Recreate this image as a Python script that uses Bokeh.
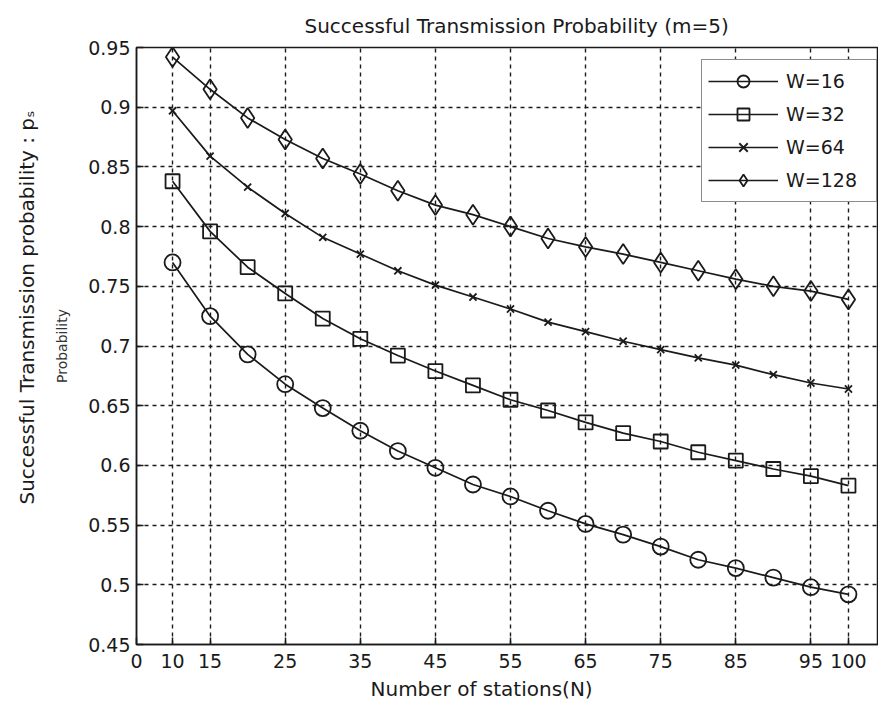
from bokeh.plotting import figure
from bokeh.models import (FixedTicker, NumeralTickFormatter, Legend, LegendItem,
                          Range1d, Title)
from bokeh.embed import file_html
from bokeh.resources import INLINE

# ---- data ----
stations = [10, 15, 20, 25, 30, 35, 40, 45, 50, 55, 60, 65, 70, 75, 80, 85, 90, 95, 100]
w16 = [0.770, 0.725, 0.693, 0.668, 0.648, 0.629, 0.612, 0.598, 0.584, 0.574,
       0.562, 0.551, 0.542, 0.532, 0.521, 0.514, 0.506, 0.498, 0.492]
w32 = [0.838, 0.796, 0.766, 0.744, 0.723, 0.706, 0.692, 0.679, 0.667, 0.655,
       0.646, 0.636, 0.627, 0.620, 0.611, 0.604, 0.597, 0.591, 0.583]
w64 = [0.897, 0.859, 0.833, 0.811, 0.791, 0.777, 0.763, 0.751, 0.741, 0.731,
       0.720, 0.712, 0.704, 0.697, 0.690, 0.684, 0.676, 0.669, 0.664]
w128 = [0.942, 0.915, 0.891, 0.873, 0.857, 0.844, 0.830, 0.818, 0.810, 0.800,
        0.790, 0.783, 0.777, 0.770, 0.763, 0.756, 0.750, 0.746, 0.739]
series_labels = ["W=16", "W=32", "W=64", "W=128"]
x_start = 5.2
x_ticks = [x_start, 10, 15, 25, 35, 45, 55, 65, 75, 85, 95, 100]
y_ticks = [0.45, 0.5, 0.55, 0.6, 0.65, 0.7, 0.75, 0.8, 0.85, 0.9, 0.95]

FONT = "DejaVu Sans"
INK = "#1a1a1a"

p = figure(width=878, height=711, output_backend="svg", toolbar_location=None,
           x_range=Range1d(x_start, 104.0), y_range=Range1d(0.45, 0.95),
           min_border_left=134, min_border_top=47, min_border_bottom=67,
           min_border_right=0)
p.background_fill_color = "white"
p.border_fill_color = "white"
p.outline_line_color = INK
p.outline_line_width = 1.5

p.title.text = "Successful Transmission Probability (m=5)"
p.title.text_font = FONT
p.title.text_font_size = "20px"
p.title.text_font_style = "normal"
p.title.text_color = INK
p.title.align = "left"
p.title.offset = 168
p.title.standoff = 20

for ax in (p.xaxis[0], p.yaxis[0]):
    ax.axis_line_color = INK
    ax.axis_line_width = 1.5
    ax.major_tick_in = 7
    ax.major_tick_out = 0
    ax.major_tick_line_color = INK
    ax.major_tick_line_width = 1.5
    ax.minor_tick_line_color = None
    ax.major_label_text_font = FONT
    ax.major_label_text_font_size = "19px"
    ax.major_label_text_color = INK

p.xaxis.ticker = FixedTicker(ticks=x_ticks)
p.xaxis.major_label_overrides = {x_start: "0"}
p.xaxis.major_label_standoff = 9
p.yaxis.ticker = FixedTicker(ticks=y_ticks)
p.yaxis.formatter = NumeralTickFormatter(format="0.0[0]")
p.yaxis.major_label_standoff = 6
# faint second label seen between the tick labels and the main y label
p.yaxis.axis_label = "Probability"
p.yaxis.axis_label_text_font = FONT
p.yaxis.axis_label_text_font_size = "14px"
p.yaxis.axis_label_text_font_style = "normal"
p.yaxis.axis_label_text_color = "#333333"
p.yaxis.axis_label_standoff = 15

xlabel = Title(text="Number of stations(N)", align="left", text_font=FONT,
               text_font_size="20px", text_font_style="normal", text_color=INK,
               standoff=9, offset=234)
p.add_layout(xlabel, "below")

main_ylabel = Title(text="Successful Transmission probability : pₛ", align="left",
                    text_font=FONT, text_font_size="20px", text_font_style="normal",
                    text_color=INK, standoff=25, offset=140)
p.add_layout(main_ylabel, "left")

for g in (p.xgrid[0], p.ygrid[0]):
    g.grid_line_color = INK
    g.grid_line_width = 1.4
    g.grid_line_dash = "4 4"
p.xgrid.ticker = FixedTicker(ticks=x_ticks[1:])
p.ygrid.ticker = FixedTicker(ticks=y_ticks)

items = []
specs = [(w16, "circle", 16), (w32, "square", 14), (w64, "x", 10), (w128, "diamond", 20)]
for (vals, marker, size), lab in zip(specs, series_labels):
    ln = p.line(stations, vals, line_color=INK, line_width=1.7)
    sc = p.scatter(stations, vals, marker=marker, size=size, line_color=INK,
                   line_width=1.8, fill_alpha=0)
    items.append(LegendItem(label=lab, renderers=[ln, sc]))

legend = Legend(items=items, location=(565, 442), glyph_width=70, glyph_height=30,
                label_text_font=FONT, label_text_font_size="19px",
                label_text_color=INK, spacing=3, padding=6, label_standoff=8,
                label_width=84,
                border_line_color=INK, border_line_width=1.5,
                background_fill_color="white", background_fill_alpha=1)
p.add_layout(legend)

open("out.html", "w").write(file_html(p, INLINE))
